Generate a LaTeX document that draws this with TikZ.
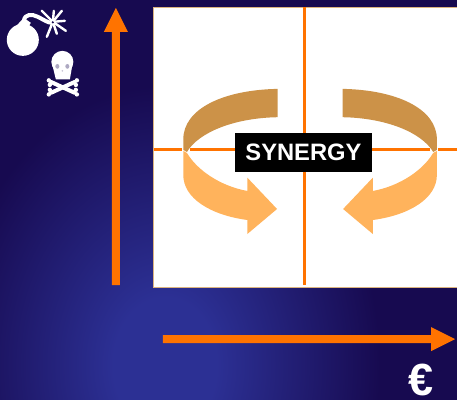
\documentclass[tikz,border=0pt]{standalone}
\usepackage{fontspec}
\setmainfont{Liberation Sans}
\definecolor{bgdark}{HTML}{170A50}
\definecolor{bglight}{HTML}{2C3094}
\definecolor{axisorange}{HTML}{FF7300}
\definecolor{tanband}{HTML}{CC9248}
\definecolor{lightband}{HTML}{FFB35C}
\pgfdeclareradialshading{glow}{\pgfpointorigin}{color(0bp)=(bglight);color(6bp)=(bglight);color(25bp)=(bgdark);color(50bp)=(bgdark)}
\tikzset{
  axisline/.style={draw=axisorange,line width=3pt},
  axisarrow/.style={fill=axisorange,draw=none},
  iconline/.style={draw=white,line cap=round},
  bone/.style={draw=white,line width=4pt,line cap=round},
  knob/.style={fill=white,draw=none}
}
\newcommand{\swirl}{%
  \fill[tanband] (277.5,89) .. controls (225,90) and (183,108) .. (183.3,140)
     -- (183.3,150) -- (187,152) .. controls (199,132) and (235,118) .. (277.5,117.3) -- cycle;
  \fill[lightband] (183.3,151) -- (187,153) .. controls (197,170) and (220,186) .. (247.3,191)
     -- (247.3,177.7) -- (277,209) -- (247.3,234) -- (247.3,220)
     .. controls (210,215) and (183.3,198) .. (183.3,175) -- cycle;
}
\begin{document}
\begin{tikzpicture}[x=1pt,y=-1pt]
\useasboundingbox (0.2,0.2) rectangle (456.8,399.8);
\fill[bgdark] (-5,-5) rectangle (462,405);
\begin{scope}
  \clip (-5,-5) rectangle (462,405);
  \shade[shading=glow,shift={(165,365)},yscale=1.3] (0,0) circle (215);
\end{scope}
% plot area
\fill[white,draw=tanband!70!white,line width=0.7pt] (153.5,7.5) rectangle (462,287.5);
\draw[axisline] (304,7.5) -- (304,285);
\draw[axisline] (154,150) -- (182,150);
\draw[axisline] (190,150) -- (235,150);
\draw[axisline] (372,150) -- (430,150);
\draw[axisline] (438,150) -- (462,150);
% swirls
\swirl
\begin{scope}[xshift=620pt,xscale=-1]
\swirl
\end{scope}
\node[fill=black,text=white,font=\bfseries\fontsize{23.7}{26}\selectfont,minimum width=137pt,minimum height=38.5pt,inner sep=0pt] (syn) at (303.4,152.5) {SYNERGY};
% axes
\fill[axisarrow] (112,285) -- (112,32) -- (104,32) -- (116,8) -- (128,32) -- (120,32) -- (120,285) -- cycle;
\fill[axisarrow] (163,335) -- (431,335) -- (431,327) -- (455,339) -- (431,351) -- (431,343) -- (163,343) -- cycle;
% bomb
\fill[white] (23,40) circle (16);
\fill[white] (17.5,25) -- (24,18) -- (31,23) -- (28,28) -- cycle;
\draw[iconline,line width=4pt] (24,21) .. controls (25,14) and (32,14) .. (38,17) .. controls (44,20) and (48,23) .. (52,23);
\foreach \ex/\ey in {42/11,54/11,62/11,65/21,66/31,57/34,47/37}{
  \draw[iconline,line width=2.4pt] (53,22) -- (\ex,\ey);
}
\fill[bgdark] (53,22.5) circle (1.2);
% skull
\foreach \ax/\ay/\bx/\by in {51/82/75/93,75/82/51/93}{
  \draw[bone] (\ax,\ay) -- (\bx,\by);
}
\foreach \kx/\ky in {49/80.5,50/85,77/80.5,76/85,49/94.5,50/90,77/94.5,76/90}{
  \fill[knob] (\kx,\ky) circle (2.2);
}
\fill[white] (62.5,62) ellipse (11 and 11);
\fill[white] (52.5,65) -- (72.5,65) -- (70,79.5) -- (56,79.5) -- cycle;
\fill[bgdark!35!white] (57.5,66.5) ellipse (2 and 2.4);
\fill[bgdark!35!white] (67.5,66.5) ellipse (2 and 2.4);
\fill[bgdark!25!white] (62.5,71) circle (0.9);
% euro
\node[anchor=base,text=white,font=\bfseries\fontsize{45}{45}\selectfont,inner sep=0pt] (euro) at (421,395.5) {€};
\end{tikzpicture}
\end{document}
